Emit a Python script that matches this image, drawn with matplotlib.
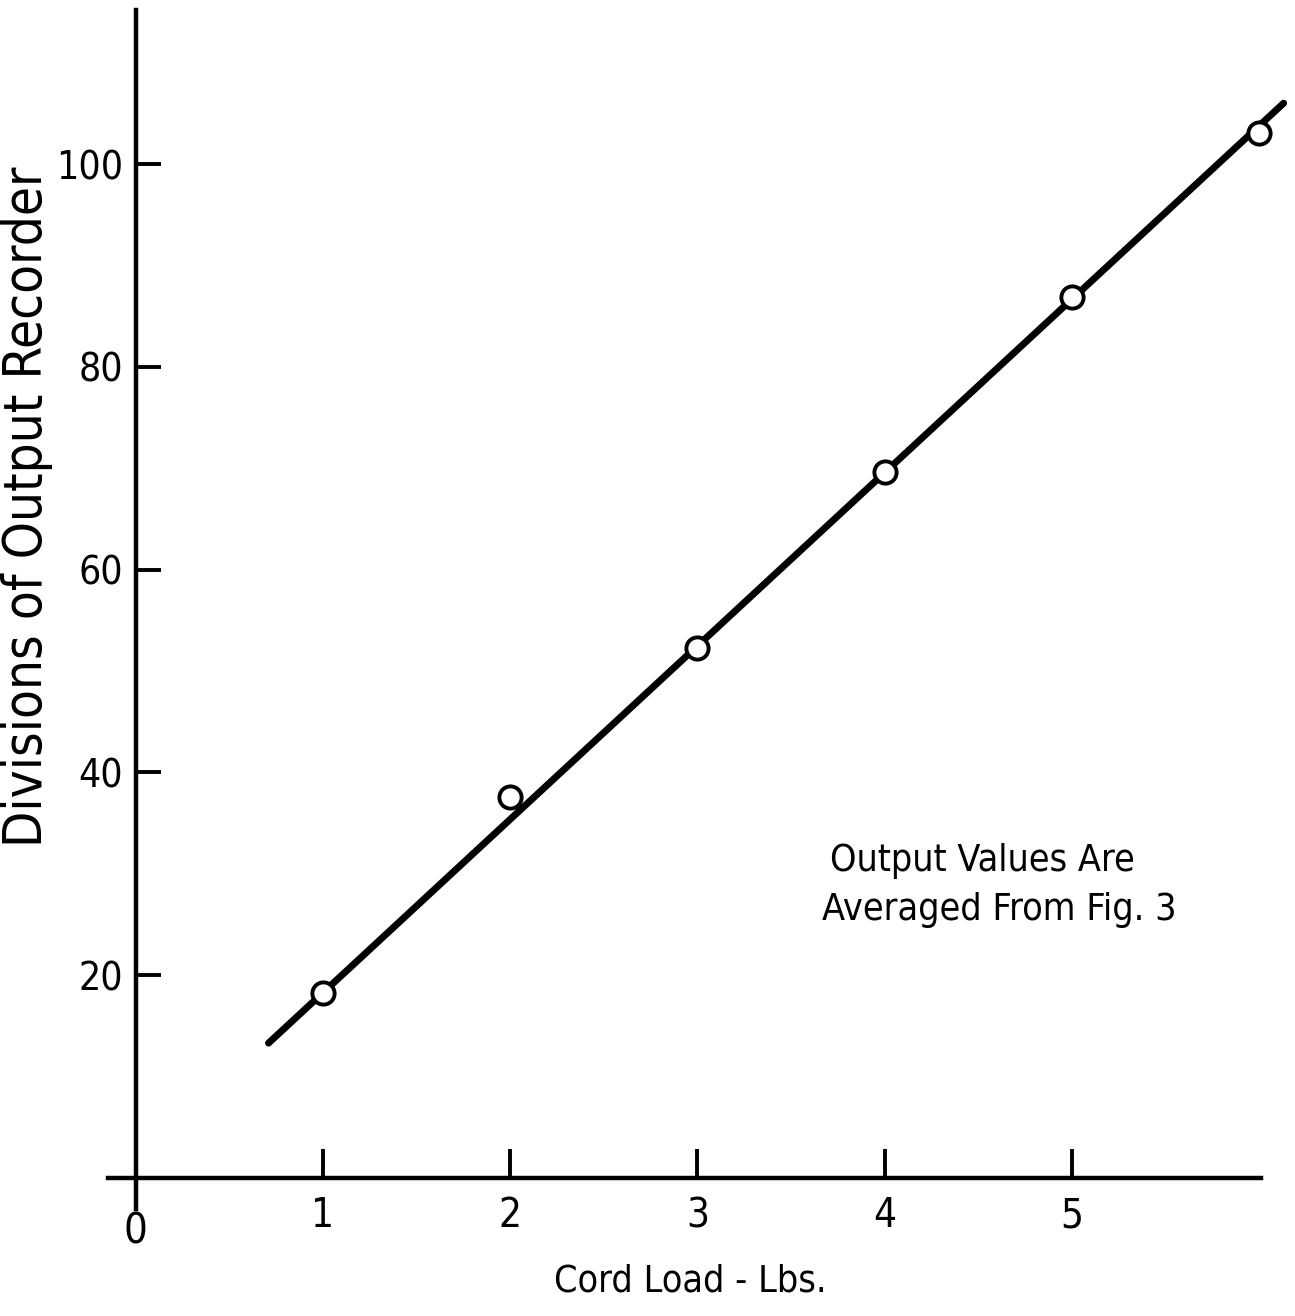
import matplotlib
matplotlib.use("Agg")
import matplotlib.pyplot as plt
from matplotlib import font_manager

# data
load_lbs = [1, 2, 3, 4, 5, 6]
divisions = [18.2, 37.6, 52.3, 69.6, 86.9, 103.1]
line_x = [0.71, 6.13]
line_y = [13.3, 106.0]
x_ticks = [1, 2, 3, 4, 5]
y_ticks = [20, 40, 60, 80, 100]

# look for a condensed sans face, the original lettering is narrow
narrow = None
for f in font_manager.fontManager.ttflist:
    n = f.fname.lower()
    if ('condensed' in n or 'narrow' in n) and 'bold' not in n and 'italic' not in n \
            and 'oblique' not in n and 'serif' not in n.replace('sans', '') and 'mono' not in n:
        narrow = f.fname
        break

def fp(size):
    if narrow:
        return font_manager.FontProperties(fname=narrow, size=size)
    return font_manager.FontProperties(family='DejaVu Sans', size=size * 0.85)

fig = plt.figure(figsize=(12.95, 13.16), dpi=100)
ax = fig.add_axes([0, 0, 1, 1])
# x=0 at 135.5px, 187.3 px/unit; y=0 at 1178px, 10.14 px/unit
ax.set_xlim(-135.5 / 187.3, (1295 - 135.5) / 187.3)
ax.set_ylim((1178 - 1316) / 10.14, 1178 / 10.14)
ax.patch.set_visible(False)

for s in ['top', 'right']:
    ax.spines[s].set_visible(False)
ax.spines['left'].set_position(('data', 0))
ax.spines['bottom'].set_position(('data', 0))
ax.spines['left'].set_bounds(-3.1, 115.2)
ax.spines['bottom'].set_bounds(-0.147, 6.01)
for s in ['left', 'bottom']:
    ax.spines[s].set_linewidth(3.2)

ax.plot(line_x, line_y, color='black', lw=5.0, solid_capstyle='round', zorder=2)
ax.plot(load_lbs, divisions, 'o', ms=16, mfc='white', mec='black', mew=2.8, zorder=3)

ax.set_xticks(x_ticks)
ax.set_yticks(y_ticks)
ax.set_xticklabels([str(t) for t in x_ticks], fontproperties=fp(29))
ax.set_yticklabels([str(t) for t in y_ticks], fontproperties=fp(28))
ax.tick_params(axis='x', direction='in', length=21, width=2.8, pad=13)
ax.tick_params(axis='y', direction='in', length=18, width=2.8, pad=9)

ax.text(0, -3.2, '0', ha='center', va='top', fontproperties=fp(30))
ax.text(-0.58, 66.2, 'Divisions of Output Recorder', rotation=90, ha='center', va='center',
        fontproperties=fp(38))
ax.text(2.96, -10.2, 'Cord Load - Lbs.', ha='center', va='center', fontproperties=fp(27))
ax.text(4.52, 31.3, 'Output Values Are', ha='center', va='center', fontproperties=fp(27))
ax.text(4.61, 26.4, 'Averaged From Fig. 3', ha='center', va='center', fontproperties=fp(27))

plt.savefig('out.png', dpi=100)
